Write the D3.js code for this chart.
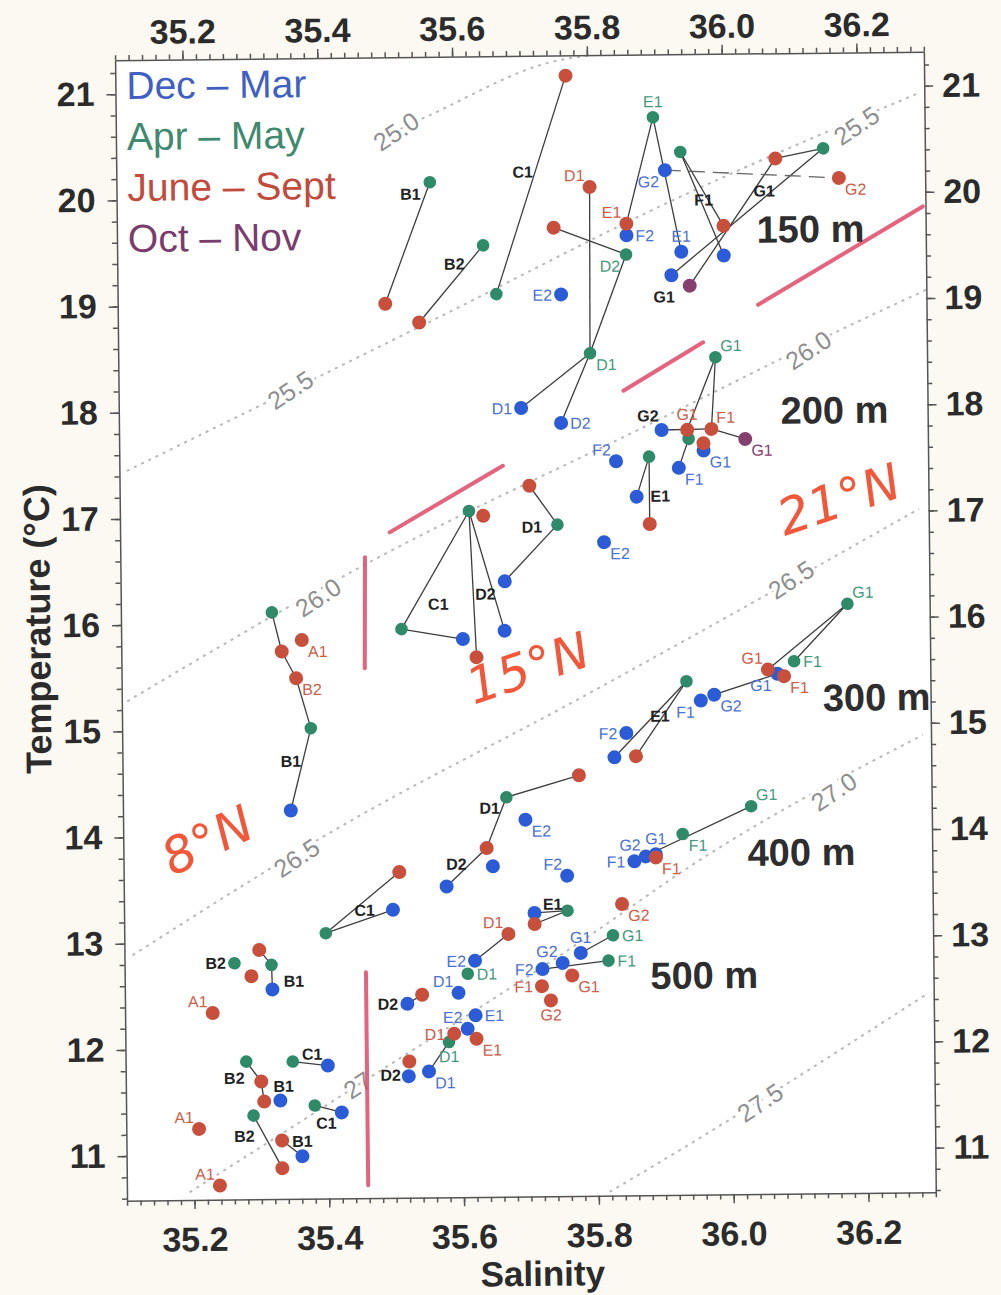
<!DOCTYPE html>
<html>
<head>
<meta charset="utf-8">
<script src="https://cdn.jsdelivr.net/npm/d3@7"></script>
<style>
  body { margin: 0; background: #fbf9f1; }
  svg { display: block; }
</style>
</head>
<body>
<svg width="1001" height="1295"></svg>
<script>
// seasons, in legend order
var seasons = ["Dec \u2013 Mar", "Apr \u2013 May", "June \u2013 Sept", "Oct \u2013 Nov"];

// [key, salinity, temperature, label, label side]
var decMar = [
  ["E1_150", 35.937, 19.46, "E1", "n"],
  ["E2_150", 35.758, 19.07, "E2", "w"],
  ["F2_150", 35.856, 19.62, "F2", "e"],
  ["G2_150", 35.914, 20.23, "G2", "sw"],
  ["F1_150", 36.0, 19.42],
  ["G1_150", 35.922, 19.24],
  ["D1_200", 35.697, 18.005, "D1", "w"],
  ["D2_200", 35.756, 17.86, "D2", "e"],
  ["F2_200", 35.837, 17.494, "F2", "nw"],
  ["E1_200", 35.867, 17.159],
  ["E2_200", 35.818, 16.733, "E2", "se"],
  ["G2_200", 35.905, 17.784],
  ["G1_200", 35.967, 17.586, "G1", "se"],
  ["F1_200", 35.93, 17.426, "F1", "se"],
  ["D1_s", 35.67, 16.375],
  ["C1_s", 35.607, 15.835],
  ["D2_s", 35.669, 15.91],
  ["B1_w", 35.349, 14.238],
  ["F2_300", 35.848, 14.934, "F2", "w"],
  ["E1_300", 35.83, 14.707],
  ["E2_300", 35.697, 14.128, "E2", "se"],
  ["F1_300", 35.959, 15.232, "F1", "sw"],
  ["G2_300", 35.979, 15.287, "G2", "se"],
  ["G1_300", 36.073, 15.477, "G1", "sw"],
  ["D2_400", 35.579, 13.507],
  ["D1_400", 35.648, 13.692],
  ["F2_400", 35.758, 13.597, "F2", "nw"],
  ["C1_400", 35.499, 13.293],
  ["F1_400", 35.858, 13.726, "F1", "w"],
  ["G2_400", 35.875, 13.77, "G2", "nw"],
  ["G1_400", 35.89, 13.79, "G1", "n"],
  ["E1_500", 35.709, 13.249],
  ["E2_500", 35.62, 12.806, "E2", "w"],
  ["G1_500", 35.777, 12.868, "G1", "n"],
  ["G2_500", 35.75, 12.776, "G2", "nw"],
  ["F2_500", 35.72, 12.72, "F2", "w"],
  ["D2_500", 35.519, 12.406],
  ["D1_500", 35.595, 12.505, "D1", "nw"],
  ["E1_500b", 35.62, 12.291, "E1", "e"],
  ["E2_500b", 35.608, 12.165, "E2", "nw"],
  ["D2_500b", 35.52, 11.725],
  ["D1_500b", 35.55, 11.767, "D1", "se"],
  ["C1_500", 35.4, 11.833],
  ["C1_500b", 35.42, 11.39],
  ["B1_500", 35.319, 12.555],
  ["B1_500b", 35.329, 11.508],
  ["B1_500c", 35.361, 10.982]
];

var aprMay = [
  ["B1_150", 35.565, 20.14],
  ["B2_150", 35.643, 19.54],
  ["C1_150", 35.662, 19.08],
  ["D2_150", 35.855, 19.44, "D2", "sw"],
  ["E1_150", 35.897, 20.73, "E1", "n"],
  ["F1_150", 35.937, 20.40],
  ["G1_150", 36.149, 20.42],
  ["D1_200", 35.80, 18.513, "D1", "se"],
  ["E1_200", 35.886, 17.534],
  ["G1_200", 35.986, 18.464, "G1", "ne"],
  ["F1_200", 35.945, 17.698],
  ["X_s", 35.618, 17.04],
  ["D1_s", 35.749, 16.903],
  ["C1_s", 35.516, 15.935],
  ["A1_w", 35.324, 16.105],
  ["B1_w", 35.38, 15.011],
  ["D1_300", 35.669, 14.341],
  ["E1_300", 35.938, 15.416],
  ["F1_300", 36.098, 15.594, "F1", "e"],
  ["G1_300", 36.178, 16.129, "G1", "ne"],
  ["C1_400", 35.399, 13.079],
  ["F1_400", 35.93, 13.978, "F1", "se"],
  ["G1_400", 36.032, 14.233, "G1", "ne"],
  ["E1_500", 35.758, 13.267],
  ["G1_500", 35.825, 13.031, "G1", "e"],
  ["F1_500", 35.818, 12.793, "F1", "e"],
  ["D1_500", 35.609, 12.683, "D1", "e"],
  ["D1_500b", 35.58, 12.042, "D1", "s"],
  ["B2_500", 35.263, 12.805],
  ["B1_500", 35.318, 12.786],
  ["B2_500b", 35.279, 11.878],
  ["C1_500", 35.348, 11.874],
  ["C1_500b", 35.38, 11.458],
  ["B2_500c", 35.289, 11.369]
];

var junSep = [
  ["B1_150", 35.497, 19.0],
  ["B2_150", 35.547, 18.82],
  ["C1_150", 35.768, 21.13],
  ["D1_150", 35.802, 20.08, "D1", "nw"],
  ["D2_150", 35.748, 19.70],
  ["E1_150", 35.856, 19.73, "E1", "nw"],
  ["G2_150", 36.172, 20.14, "G2", "se"],
  ["F1_150", 36.0, 19.70],
  ["G1_150", 36.078, 20.33],
  ["G1_200", 35.943, 17.783, "G1", "n"],
  ["F1_200", 35.979, 17.789, "F1", "ne"],
  ["X_200", 35.967, 17.655],
  ["E1_200", 35.886, 16.90],
  ["X_s", 35.639, 16.994],
  ["D1_s", 35.708, 17.272],
  ["C1_s", 35.627, 15.663],
  ["A1_w", 35.368, 15.841, "A1", "se"],
  ["X_w", 35.338, 15.736],
  ["B2_w", 35.359, 15.483, "B2", "se"],
  ["D1_300", 35.777, 14.541],
  ["E1_300", 35.862, 14.715],
  ["G1_300", 36.059, 15.518, "G1", "nw"],
  ["F1_300", 36.083, 15.454, "F1", "se"],
  ["D2_400", 35.639, 13.865],
  ["C1_400", 35.509, 13.647],
  ["G2_400", 35.839, 13.325, "G2", "se"],
  ["F1_400", 35.89, 13.76, "F1", "se"],
  ["E1_500", 35.709, 13.145],
  ["D1_500", 35.670, 13.054, "D1", "nw"],
  ["F1_500", 35.719, 12.559, "F1", "w"],
  ["G1_500", 35.764, 12.657, "G1", "se"],
  ["G2_500", 35.732, 12.424, "G2", "s"],
  ["D2_500", 35.541, 12.49],
  ["D1_500b", 35.588, 12.12, "D1", "w"],
  ["E1_500b", 35.621, 12.07, "E1", "se"],
  ["X_500", 35.521, 11.863],
  ["B2_500", 35.3, 12.928],
  ["B1_500", 35.288, 12.682],
  ["A1_500", 35.23, 12.339, "A1", "nw"],
  ["B2_500b", 35.301, 11.688],
  ["B1_500b", 35.305, 11.5],
  ["A1_500b", 35.208, 11.249, "A1", "nw"],
  ["B1_500c", 35.331, 11.132],
  ["B2_500c", 35.331, 10.871],
  ["A1_500c", 35.238, 10.713, "A1", "nw"]
];

var octNov = [
  ["G1_150", 35.949, 19.14],
  ["G1_200", 36.029, 17.692, "G1", "se"]
];

// season letter : key
var links = [
  ["g:B1_150", "r:B1_150"], ["g:B2_150", "r:B2_150"], ["r:C1_150", "g:C1_150"],
  ["r:D1_150", "g:D1_200"], ["r:D2_150", "g:D2_150"], ["g:D2_150", "g:D1_200"],
  ["g:E1_150", "r:E1_150"], ["g:E1_150", "b:E1_150"],
  ["g:F1_150", "r:F1_150"], ["g:F1_150", "b:F1_150"],
  ["r:G1_150", "g:G1_150"], ["b:G1_150", "g:G1_150"], ["p:G1_150", "r:G1_150"],
  ["g:D1_200", "b:D1_200"], ["g:D1_200", "b:D2_200"],
  ["g:E1_200", "b:E1_200"], ["g:E1_200", "r:E1_200"],
  ["g:G1_200", "r:G1_200"], ["g:G1_200", "r:F1_200"],
  ["b:G2_200", "r:F1_200"], ["r:F1_200", "p:G1_200"], ["g:F1_200", "b:F1_200"],
  ["g:X_s", "g:C1_s"], ["g:X_s", "r:C1_s"], ["g:X_s", "b:D2_s"], ["g:C1_s", "b:C1_s"],
  ["r:D1_s", "g:D1_s"], ["g:D1_s", "b:D1_s"],
  ["g:A1_w", "r:X_w"], ["r:X_w", "r:B2_w"], ["r:B2_w", "g:B1_w"], ["g:B1_w", "b:B1_w"],
  ["g:D1_300", "r:D1_300"], ["g:D1_300", "r:D2_400"], ["r:D2_400", "b:D2_400"],
  ["b:E1_300", "g:E1_300"], ["r:E1_300", "g:E1_300"],
  ["b:G2_300", "b:G1_300"], ["g:G1_300", "r:G1_300"], ["g:G1_300", "g:F1_300"],
  ["g:C1_400", "r:C1_400"], ["g:C1_400", "b:C1_400"],
  ["b:F1_400", "g:G1_400"],
  ["b:E2_500", "r:D1_500"], ["b:E1_500", "g:E1_500"], ["r:E1_500", "g:E1_500"],
  ["b:G1_500", "g:G1_500"], ["b:F2_500", "g:F1_500"],
  ["b:D1_500b", "g:D1_500b"], ["b:D2_500", "r:D2_500"],
  ["g:C1_500", "b:C1_500"], ["g:C1_500b", "b:C1_500b"],
  ["g:B2_500c", "r:B2_500c"], ["r:B1_500c", "b:B1_500c"],
  ["g:B2_500b", "r:B2_500b"], ["r:B2_500b", "r:B1_500b"],
  ["r:B2_500", "g:B1_500"], ["g:B1_500", "b:B1_500"]
];
var dashedLinks = [["b:G2_150", "r:G2_150"]];

// station labels set in black: [text, salinity, temperature]
var stationLabels = [
  ["B1", 35.536, 20.03], ["B2", 35.6, 19.367], ["C1", 35.703, 20.227],
  ["F1", 35.971, 19.946], ["G1", 36.061, 20.025], ["G1", 35.911, 19.037],
  ["G2", 35.885, 17.918], ["E1", 35.902, 17.163],
  ["D1", 35.711, 16.883], ["C1", 35.571, 16.167], ["D2", 35.641, 16.257],
  ["B1", 35.35, 14.702], ["D1", 35.644, 14.241], ["E1", 35.898, 15.091],
  ["D2", 35.594, 13.717], ["C1", 35.457, 13.292], ["E1", 35.736, 13.331],
  ["D2", 35.49, 12.405], ["D2", 35.493, 11.736],
  ["B2", 35.235, 12.807], ["B1", 35.351, 12.631], ["B2", 35.261, 11.722],
  ["B1", 35.334, 11.642], ["C1", 35.377, 11.942], ["C1", 35.397, 11.291],
  ["B2", 35.275, 11.175], ["B1", 35.361, 11.123]
];

// depth labels: [text, salinity, temperature] at the start of the baseline
var depthLabels = [
  ["150 m", 36.049, 19.537], ["200 m", 36.082, 17.83], ["300 m", 36.14, 15.123],
  ["400 m", 36.026, 13.671], ["500 m", 35.88, 12.522]
];

// sigma-theta isopycnals as [salinity, temperature] vertices
var iso250 = [[35.50, 20.58], [35.561, 20.756], [35.760, 21.278], [35.81, 21.32]];
var iso255 = [[35.111, 17.451], [35.568, 18.842], [35.916, 19.919], [36.293, 20.934]];
var iso260 = [[35.108, 15.282], [35.464, 16.55], [35.888, 17.842], [36.191, 18.765], [36.3, 19.078]];
var iso265 = [[35.112, 12.89], [35.411, 14.04], [35.789, 15.297], [35.91, 15.71], [36.286, 17.017]];
var iso270 = [[35.193, 10.653], [35.444, 11.645], [35.785, 13.008], [35.953, 13.723], [36.288, 14.888]];
var iso275 = [[35.816, 10.615], [35.899, 10.92], [36.288, 12.44]];
// isopycnal labels: [text, salinity, temperature]
var isoLabels = [
  ["25.0", 35.516, 20.62], ["25.5", 35.355, 18.196], ["25.5", 36.199, 20.63],
  ["26.0", 35.393, 16.24], ["26.0", 36.124, 18.52], ["26.5", 35.357, 13.79],
  ["26.5", 36.095, 16.36], ["27.0", 36.155, 14.36], ["27", 35.444, 11.645],
  ["27.5", 36.041, 11.44]
];

// pen marks on the sheet
var penStrokes = [
  [[36.05, 18.953], [36.296, 19.863]],
  [[35.849, 18.158], [35.968, 18.606]],
  [[35.5, 16.847], [35.669, 17.463]],
  [[35.463, 16.616], [35.461, 15.571]],
  [[35.458, 12.708], [35.458, 10.702]]
];
var penNotes = [["8\u00b0N", 35.225, 13.966, -25], ["15\u00b0N", 35.703, 15.556, -18], ["21\u00b0N", 36.167, 17.114, -18]];

var dotColor = {b: "#2b5bd6", g: "#2e8a69", r: "#c84f3b", p: "#86406f"};
var labColor = {b: "#4c70d6", g: "#44997b", r: "#cf5c49", p: "#86406f"};
var legColor = ["#3f5fc4", "#3f8a6e", "#c2493c", "#7a3c6c"];

var svg = d3.select("svg");

var x = d3.scaleLinear().domain([35.1, 36.3]).range([121, 929.8]);
var y = d3.scaleLinear().domain([10.58, 21.32]).range([1196.5, 55.9]);

// the sheet sits slightly turned
var g = svg.append("g").attr("transform", "rotate(-0.6,525.4,620.9)");

g.append("rect")
  .attr("x", x(35.1)).attr("y", y(21.32))
  .attr("width", x(36.3) - x(35.1)).attr("height", y(10.58) - y(21.32))
  .attr("fill", "#fff");

var clip = svg.append("defs").append("clipPath").attr("id", "plot");
clip.append("rect")
  .attr("x", x(35.1)).attr("y", y(21.32))
  .attr("width", x(36.3) - x(35.1)).attr("height", y(10.58) - y(21.32));

// isopycnals
var line = d3.line().x(d => x(d[0])).y(d => y(d[1])).curve(d3.curveMonotoneX);
var iso = g.append("g").attr("clip-path", "url(#plot)");
[iso250, iso255, iso260, iso265, iso270, iso275].forEach(function(pts) {
  iso.append("path")
    .attr("d", line(pts))
    .attr("fill", "none")
    .attr("stroke", "#b9b9b9")
    .attr("stroke-width", 2)
    .attr("stroke-dasharray", "3,5");
});
iso.selectAll(".isolab")
  .data(isoLabels)
  .enter().append("text")
    .attr("class", "isolab")
    .attr("transform", d => "translate(" + x(d[1]) + "," + y(d[2]) + ") rotate(-33)")
    .attr("text-anchor", "middle")
    .attr("dy", "0.35em")
    .attr("font-family", "Liberation Sans, Arial, sans-serif")
    .attr("font-size", 25)
    .attr("fill", "#8e8e8e")
    .attr("stroke", "#fff")
    .attr("stroke-width", 6)
    .attr("paint-order", "stroke")
    .text(d => d[0]);

// pen marks
g.append("g").selectAll("path")
  .data(penStrokes)
  .enter().append("path")
    .attr("d", d => d3.line()(d.map(p => [x(p[0]), y(p[1])])))
    .attr("stroke", "#e0496a")
    .attr("stroke-width", 4)
    .attr("stroke-linecap", "round")
    .attr("opacity", 0.85);

g.append("g").selectAll("text")
  .data(penNotes)
  .enter().append("text")
    .attr("transform", d => "translate(" + x(d[1]) + "," + y(d[2]) + ") rotate(" + d[3] + ")")
    .attr("text-anchor", "middle")
    .attr("dy", "0.35em")
    .attr("font-family", "DejaVu Sans, sans-serif")
    .attr("font-style", "italic")
    .attr("font-size", 50)
    .attr("fill", "#f2573a")
    .text(d => d[0]);

// all points by key
var byKey = {};
var points = [];
[["b", decMar], ["g", aprMay], ["r", junSep], ["p", octNov]].forEach(function(s) {
  s[1].forEach(function(d) {
    var p = {id: s[0] + ":" + d[0], season: s[0], s: d[1], t: d[2], label: d[3], side: d[4]};
    byKey[p.id] = p;
    points.push(p);
  });
});

var seg = g.append("g");
seg.selectAll(".link")
  .data(links)
  .enter().append("line")
    .attr("x1", d => x(byKey[d[0]].s)).attr("y1", d => y(byKey[d[0]].t))
    .attr("x2", d => x(byKey[d[1]].s)).attr("y2", d => y(byKey[d[1]].t))
    .attr("stroke", "#3d3d3d")
    .attr("stroke-width", 1.3);
seg.selectAll(".dlink")
  .data(dashedLinks)
  .enter().append("line")
    .attr("x1", d => x(byKey[d[0]].s)).attr("y1", d => y(byKey[d[0]].t))
    .attr("x2", d => x(byKey[d[1]].s)).attr("y2", d => y(byKey[d[1]].t))
    .attr("stroke", "#666")
    .attr("stroke-width", 1.3)
    .attr("stroke-dasharray", "16,8");

g.append("g").selectAll("circle")
  .data(points)
  .enter().append("circle")
    .attr("cx", d => x(d.s))
    .attr("cy", d => y(d.t))
    .attr("r", d => d.season == "g" ? 6.3 : 7)
    .attr("fill", d => dotColor[d.season]);

var side = {n: [0, -10, "middle"], s: [0, 20, "middle"], e: [9, 6, "start"], w: [-9, 6, "end"],
            ne: [5, -6, "start"], nw: [-5, -6, "end"], se: [6, 17, "start"], sw: [-6, 17, "end"]};

g.append("g").selectAll("text")
  .data(points.filter(d => d.label))
  .enter().append("text")
    .attr("x", d => x(d.s) + side[d.side][0])
    .attr("y", d => y(d.t) + side[d.side][1])
    .attr("text-anchor", d => side[d.side][2])
    .attr("font-family", "Liberation Sans, Arial, sans-serif")
    .attr("font-size", 16)
    .attr("fill", d => labColor[d.season])
    .text(d => d.label);

g.append("g").selectAll("text")
  .data(stationLabels)
  .enter().append("text")
    .attr("x", d => x(d[1]))
    .attr("y", d => y(d[2]))
    .attr("dy", "0.35em")
    .attr("text-anchor", "middle")
    .attr("font-family", "Liberation Sans, Arial, sans-serif")
    .attr("font-weight", "bold")
    .attr("font-size", 16)
    .attr("fill", "#222")
    .text(d => d[0]);

g.append("g").selectAll("text")
  .data(depthLabels)
  .enter().append("text")
    .attr("x", d => x(d[1]))
    .attr("y", d => y(d[2]))
    .attr("font-family", "Liberation Sans, Arial, sans-serif")
    .attr("font-weight", "bold")
    .attr("font-size", 38)
    .attr("fill", "#2e2e2e")
    .text(d => d[0]);

// legend
g.append("g").selectAll("text")
  .data(seasons)
  .enter().append("text")
    .attr("x", x(35.1) + 11)
    .attr("y", (d, i) => y(21.32) + 39 + i * 51)
    .attr("font-family", "Liberation Sans, Arial, sans-serif")
    .attr("font-size", 39)
    .attr("fill", (d, i) => legColor[i])
    .text(d => d);

// axes
var xMajor = [35.2, 35.4, 35.6, 35.8, 36.0, 36.2];
var yMajor = d3.range(11, 22);
var xMinor = d3.range(35.1, 36.301, 0.02);
var yMinor = d3.range(10.6, 21.31, 0.2);

function styleAxis(sel) {
  sel.selectAll("path, line").attr("stroke", "#555").attr("stroke-width", 1.5);
  sel.selectAll("text")
    .attr("font-family", "Liberation Sans, Arial, sans-serif")
    .attr("font-weight", "bold")
    .attr("font-size", 34)
    .attr("fill", "#2b2b2b");
}

var fmt = d3.format(".1f");
var axes = [
  [d3.axisBottom(x), "translate(0," + y(10.58) + ")", xMajor, xMinor, fmt, 18],
  [d3.axisTop(x), "translate(0," + y(21.32) + ")", xMajor, xMinor, fmt, 7],
  [d3.axisLeft(y), "translate(" + x(35.1) + ",0)", yMajor, yMinor, d3.format("d"), 12],
  [d3.axisRight(y), "translate(" + x(36.3) + ",0)", yMajor, yMinor, d3.format("d"), 9]
];
axes.forEach(function(a) {
  var minor = g.append("g").attr("transform", a[1])
    .call(a[0].tickValues(a[3]).tickSize(5).tickSizeOuter(0).tickFormat(""));
  minor.select(".domain").remove();
  styleAxis(minor);
  var major = g.append("g").attr("transform", a[1])
    .call(a[0].tickValues(a[2]).tickSize(9).tickSizeOuter(0).tickPadding(a[5]).tickFormat(a[4]));
  styleAxis(major);
});

g.append("text")
  .attr("x", 536)
  .attr("y", 1286)
  .attr("text-anchor", "middle")
  .attr("font-family", "Liberation Sans, Arial, sans-serif")
  .attr("font-weight", "bold")
  .attr("font-size", 35)
  .attr("fill", "#2b2b2b")
  .text("Salinity");

g.append("text")
  .attr("transform", "translate(50,624) rotate(-90)")
  .attr("text-anchor", "middle")
  .attr("font-family", "Liberation Sans, Arial, sans-serif")
  .attr("font-weight", "bold")
  .attr("font-size", 36)
  .attr("fill", "#2b2b2b")
  .text("Temperature (\u00b0C)");
</script>
</body>
</html>
